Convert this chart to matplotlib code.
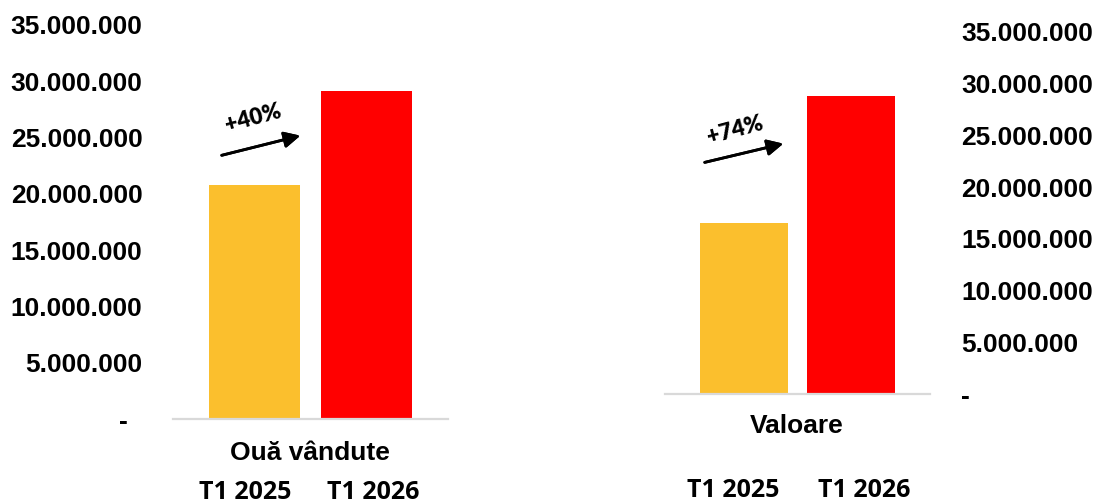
import matplotlib.pyplot as plt
from matplotlib.ticker import FuncFormatter

# data
periods = ["T1 2025", "T1 2026"]
oua_vandute = [20_800_000, 29_100_000]
valoare = [16_550_000, 28_800_000]
growth_labels = ["+40%", "+74%"]
panel_titles = ["Ouă vândute", "Valoare"]
y_ticks = [0, 5_000_000, 10_000_000, 15_000_000, 20_000_000, 25_000_000, 30_000_000, 35_000_000]

colors = ["#FBBF2D", "#FF0000"]
tick_font = "Liberation Sans"


def fmt_left(v, pos):
    if v == 0:
        return "-  "
    return f"{int(v):,}".replace(",", ".")


def fmt_right(v, pos):
    if v == 0:
        return "-"
    return f"{int(v):,}".replace(",", ".")


fig = plt.figure(figsize=(10.95, 4.99), dpi=100)

ax1 = fig.add_axes([0.158, 0.1603, 0.2511, 0.7896])
ax2 = fig.add_axes([0.6073, 0.2104, 0.2420, 0.7255])

for ax, vals, width, xl in [(ax1, oua_vandute, 0.81, 0.728), (ax2, valoare, 0.822, 0.738)]:
    ax.bar(range(len(periods)), vals, width=width, color=colors)
    ax.set_ylim(0, 35_000_000)
    ax.set_xlim(-xl, 1 + xl)
    ax.set_yticks(y_ticks)
    ax.set_xticks([])
    for s in ["top", "left", "right"]:
        ax.spines[s].set_visible(False)
    ax.spines["bottom"].set_color("#d9d9d9")
    ax.spines["bottom"].set_linewidth(1.6)

ax1.yaxis.set_major_formatter(FuncFormatter(fmt_left))
ax1.tick_params(axis="y", length=0, pad=22)

ax2.yaxis.tick_right()
ax2.yaxis.set_major_formatter(FuncFormatter(fmt_right))
ax2.tick_params(axis="y", length=0, pad=22.5)

for ax in (ax1, ax2):
    for lab in ax.get_yticklabels():
        lab.set_fontfamily(tick_font)
        lab.set_fontweight("bold")
        lab.set_fontsize(19)

# panel titles
fig.text(0.283, 0.078, panel_titles[0], ha="center", va="baseline",
         fontsize=19, fontweight="bold", family=tick_font)
fig.text(0.728, 0.132, panel_titles[1], ha="center", va="baseline",
         fontsize=19, fontweight="bold", family=tick_font)

# period labels under each panel (cut at the bottom edge, as in the original)
for x, lab in zip([0.224, 0.341], periods):
    fig.text(x, 0.0, lab, ha="center", va="baseline", fontsize=18,
             fontweight="bold", family="Open Sans")
for x, lab in zip([0.670, 0.789], periods):
    fig.text(x, 0.004, lab, ha="center", va="baseline", fontsize=18,
             fontweight="bold", family="Open Sans")

# growth arrows
arrow_props = dict(arrowstyle="-|>", color="black", lw=2, mutation_scale=24)
fig.add_artist(plt.annotate("", xy=(0.2767, 0.7295), xytext=(0.2, 0.6874),
                            xycoords="figure fraction", arrowprops=arrow_props))
fig.add_artist(plt.annotate("", xy=(0.7178, 0.7134), xytext=(0.6411, 0.6733),
                            xycoords="figure fraction", arrowprops=arrow_props))
fig.text(0.2311, 0.7635, growth_labels[0], ha="center", va="center", rotation=15,
         fontsize=16, fontweight="heavy", family="Lato")
fig.text(0.6712, 0.7395, growth_labels[1], ha="center", va="center", rotation=15,
         fontsize=16, fontweight="heavy", family="Lato")

fig.savefig("out.png", dpi=100)
